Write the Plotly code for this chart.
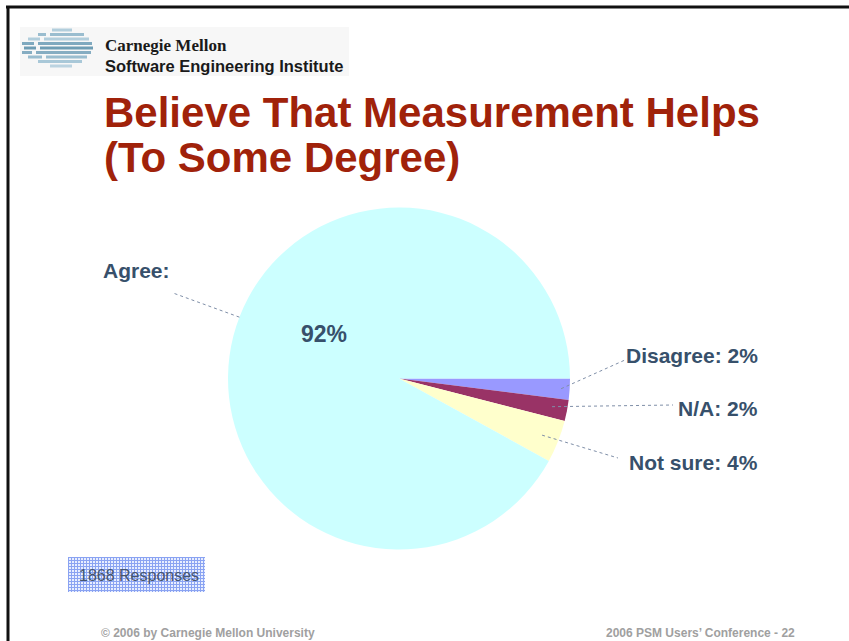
import base64
import math
import plotly.graph_objects as go

# Survey answers, clockwise from 3 o'clock
categories = ["Disagree", "N/A", "Not sure", "Agree"]
percents = [2, 2, 4, 92]
slice_colors = ["#9999FF", "#993366", "#FFFFCC", "#CCFFFF"]
responses = 1868

W, H = 849, 641


def px(x):
    return x / W


def py(y):
    return 1 - y / H


# Pie placement (pixels)
CX, CY, R = 399, 378.5, 171

fig = go.Figure()
fig.add_trace(go.Pie(
    labels=categories,
    values=percents,
    marker=dict(colors=slice_colors, line=dict(width=0)),
    sort=False,
    direction="clockwise",
    rotation=90,
    textinfo="none",
    hoverinfo="label+percent",
    showlegend=False,
    domain=dict(x=[px(CX - R), px(CX + R)], y=[py(CY + R), py(CY - R)]),
))


def slice_point(idx, frac, rfrac):
    """Pixel position inside slice idx: frac along its arc, rfrac of radius."""
    total = sum(percents)
    start = sum(percents[:idx]) / total * 360
    span = percents[idx] / total * 360
    th = math.radians(start + frac * span)
    return CX + R * rfrac * math.cos(th), CY + R * rfrac * math.sin(th)


font_family = "Liberation Sans, Arial, sans-serif"
label_color = "#37506B"
shapes = []
annotations = []

# Callout labels: (slice index, arc fraction, radius fraction, line end, text pos, anchor, text)
callouts = [
    (0, 0.5, 0.95, (625, 360), (760, 355), "right", f"{categories[0]}: {percents[0]}%"),
    (1, 0.45, 0.91, (673, 405), (760, 408), "right", f"{categories[1]}: {percents[1]}%"),
    (2, 0.5, 0.90, (618, 458), (760, 462), "right", f"{categories[2]}: {percents[2]}%"),
    (3, 0.52, 1.0, (173, 293), (101, 271), "left", f"{categories[3]}:"),
]
for idx, fr, rf, end, tpos, anchor, text in callouts:
    x0, y0 = slice_point(idx, fr, rf)
    shapes.append(dict(type="line", xref="paper", yref="paper",
                       x0=px(x0), y0=py(y0), x1=px(end[0]), y1=py(end[1]),
                       line=dict(color="#7F8FA8", width=1, dash="dot")))
    annotations.append(dict(xref="paper", yref="paper", x=px(tpos[0]), y=py(tpos[1]),
                            xanchor=anchor, yanchor="middle", showarrow=False, text=f"<b>{text}</b>",
                            font=dict(family=font_family, size=21, color=label_color)))

# Value of the big slice, drawn inside it
vx, vy = slice_point(3, 0.55, 0.51)
annotations.append(dict(xref="paper", yref="paper", x=px(vx), y=py(vy), xanchor="center",
                        yanchor="middle", showarrow=False, text=f"<b>{percents[3]}%</b>",
                        font=dict(family=font_family, size=23, color=label_color)))

# Title
title_color = "#A0220A"
for text, yc in [("Believe That Measurement Helps", 113), ("(To Some Degree)", 158)]:
    annotations.append(dict(xref="paper", yref="paper", x=px(102), y=py(yc), xanchor="left",
                            yanchor="middle", showarrow=False, text=f"<b>{text}</b>",
                            font=dict(family=font_family, size=42, color=title_color)))

# Header logo block
shapes.append(dict(type="rect", xref="paper", yref="paper", x0=px(20), x1=px(349),
                   y0=py(76), y1=py(27), fillcolor="#F7F7F7", line=dict(width=0), layer="below"))
stripes = [
    (30, [(52, 72)], "#B2CEDC"),
    (34.5, [(38, 46), (50, 84)], "#9ABDCF"),
    (39, [(28, 40), (44, 89)], "#B2CEDC"),
    (43.5, [(22, 34), (38, 92)], "#7FA9BF"),
    (48, [(24, 36), (40, 93)], "#6F9DB4"),
    (52.5, [(22, 32), (36, 91)], "#86ADC2"),
    (57, [(28, 42), (46, 87)], "#9ABDCF"),
    (61.5, [(38, 82)], "#A9C8D8"),
    (66, [(50, 72)], "#BBD3E0"),
]
for y, segs, col in stripes:
    for a, b in segs:
        shapes.append(dict(type="line", xref="paper", yref="paper", x0=px(a), x1=px(b),
                           y0=py(y), y1=py(y), line=dict(color=col, width=3)))
annotations.append(dict(xref="paper", yref="paper", x=px(103), y=py(45), xanchor="left",
                        yanchor="middle", showarrow=False, text="<b>Carnegie Mellon</b>",
                        font=dict(family="Liberation Serif, Times New Roman, serif", size=17,
                                  color="#1A1A1A")))
annotations.append(dict(xref="paper", yref="paper", x=px(103), y=py(66), xanchor="left",
                        yanchor="middle", showarrow=False, text="<b>Software Engineering Institute</b>",
                        font=dict(family=font_family, size=16.5, color="#1A1A1A")))

# Slide frame
shapes.append(dict(type="line", xref="paper", yref="paper", x0=px(6), x1=1.0,
                   y0=py(7), y1=py(7), line=dict(color="#111111", width=3)))
shapes.append(dict(type="line", xref="paper", yref="paper", x0=px(8), x1=px(8),
                   y0=py(6), y1=0, line=dict(color="#111111", width=3)))

# Response count box with a grid fill
bx0, bx1, by0, by1 = 68, 205, 557, 592
bw, bh = bx1 - bx0, by1 - by0
svg = (
    f"<svg xmlns='http://www.w3.org/2000/svg' width='{bw}' height='{bh}'>"
    "<defs><pattern id='g' width='3' height='3' patternUnits='userSpaceOnUse'>"
    "<rect width='3' height='3' fill='#E8EEFF'/>"
    "<rect width='1' height='3' fill='#8AA3F2'/>"
    "<rect width='3' height='1' fill='#8AA3F2'/>"
    "</pattern></defs>"
    f"<rect width='{bw}' height='{bh}' fill='url(#g)'/></svg>"
)
src = "data:image/svg+xml;base64," + base64.b64encode(svg.encode()).decode()
fig.add_layout_image(dict(source=src, xref="paper", yref="paper", x=px(bx0), y=py(by0),
                          sizex=bw / W, sizey=bh / H, sizing="stretch", xanchor="left",
                          yanchor="top", layer="below"))
annotations.append(dict(xref="paper", yref="paper", x=px(77), y=py(575), xanchor="left",
                        yanchor="middle", showarrow=False, text=f"{responses} Responses",
                        font=dict(family=font_family, size=16, color="#45556F")))

# Footer
annotations.append(dict(xref="paper", yref="paper", x=px(99), y=py(633), xanchor="left",
                        yanchor="middle", showarrow=False,
                        text="<b>© 2006 by Carnegie Mellon University</b>",
                        font=dict(family=font_family, size=12, color="#A0A0A0")))
annotations.append(dict(xref="paper", yref="paper", x=px(797), y=py(633), xanchor="right",
                        yanchor="middle", showarrow=False,
                        text="<b>2006 PSM Users’ Conference - 22</b>",
                        font=dict(family=font_family, size=12, color="#A0A0A0")))

fig.update_layout(
    width=W, height=H,
    margin=dict(l=0, r=0, t=0, b=0),
    paper_bgcolor="white",
    plot_bgcolor="white",
    shapes=shapes,
    annotations=annotations,
)

fig.write_html("out.html")
